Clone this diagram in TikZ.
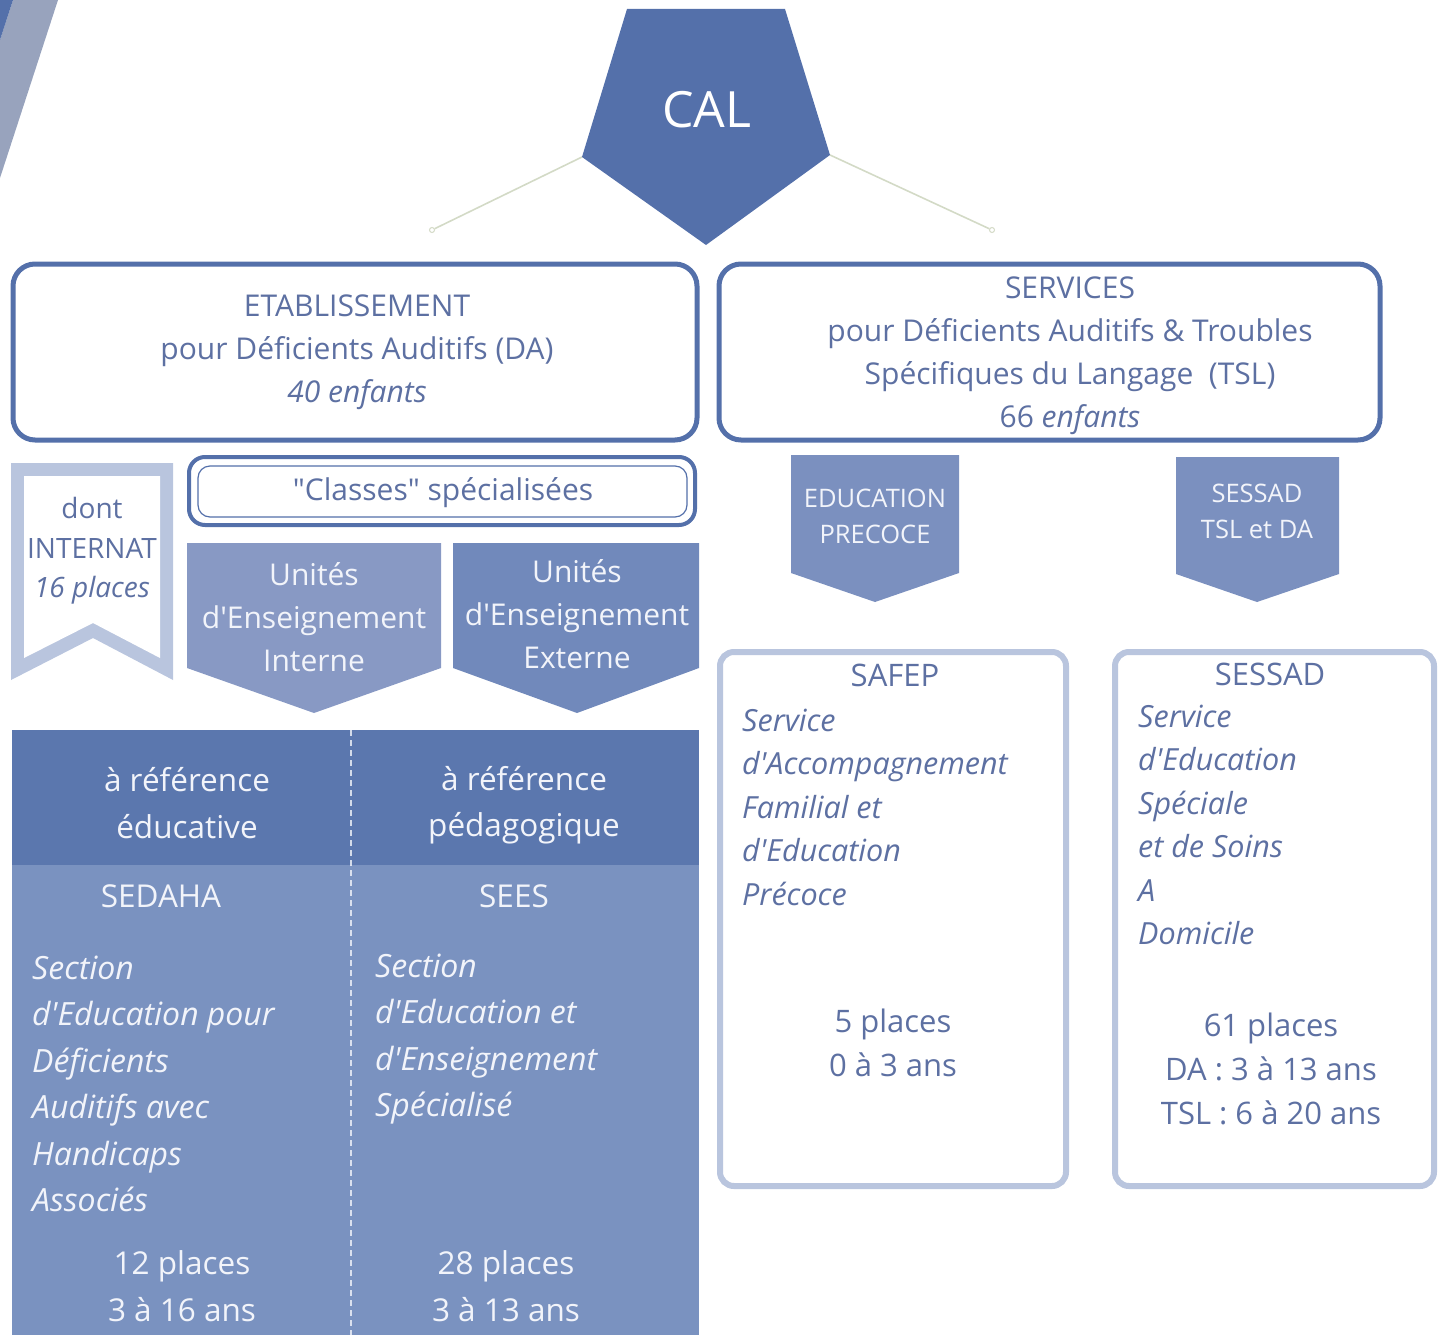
\documentclass[tikz,border=0pt]{standalone}
\usepackage{fontspec}
\setmainfont{Open Sans}
\newcommand{\ap}{\textquotesingle}
\newcommand{\qd}{\textquotedbl}
\definecolor{dkblue}{HTML}{5470AA}
\definecolor{txtc}{HTML}{5D70A2}
\definecolor{lightb}{HTML}{B9C5DE}
\definecolor{uiint}{HTML}{8899C4}
\definecolor{uiext}{HTML}{7189BB}
\definecolor{arrowc}{HTML}{7B90BF}
\definecolor{tabtop}{HTML}{5B77AE}
\definecolor{tabbot}{HTML}{7A92C0}
\definecolor{decogrey}{HTML}{98A3BD}
\definecolor{linkc}{HTML}{D3DAC6}
\definecolor{wtxtc}{HTML}{F2F4FA}
\tikzset{
  txt/.style={text=txtc, align=center, inner sep=0pt, font=\fontsize{30}{43}\selectfont},
  wtxt/.style={text=wtxtc, align=center, inner sep=0pt, font=\fontsize{30}{43}\selectfont},
  tabtxt/.style={text=wtxtc, align=center, inner sep=0pt, font=\fontsize{31.5}{46.5}\selectfont},
  tabital/.style={text=wtxtc, align=left, inner sep=0pt, anchor=west, font=\fontsize{32}{46.5}\selectfont\itshape},
  boxtxt/.style={text=txtc, align=center, inner sep=0pt, font=\fontsize{31}{44}\selectfont},
  boxital/.style={text=txtc, align=left, inner sep=0pt, anchor=west, font=\fontsize{30.5}{43.5}\selectfont\itshape},
  bigbox/.style={draw=dkblue, line width=5pt, rounded corners=22pt, fill=white},
  lightbox/.style={draw=lightb, line width=6pt, rounded corners=14pt, fill=white},
  link/.style={draw=linkc, line width=1.6pt},
  enddot/.style={circle, draw=linkc, fill=white, line width=1pt, inner sep=0pt, minimum size=5pt}
}
\begin{document}
\begin{tikzpicture}[x=1pt,y=-1pt]
\useasboundingbox (0,0) rectangle (1445,1335);

% corner decoration
\fill[decogrey] (13,0) -- (58,0) -- (0,178) -- (0,40) -- cycle;
\fill[dkblue] (0,0) -- (13,0) -- (0,40) -- cycle;

% CAL pentagon and links
\coordinate (calL) at (582,157);
\coordinate (calR) at (830,155);
\node[enddot] (endL) at (432,230) {};
\node[enddot] (endR) at (992,230) {};
\draw[link] (calL) -- (endL);
\draw[link] (calR) -- (endR);
\fill[dkblue] (627,9) -- (785,9) -- (calR) -- (706,245) -- (calL) -- cycle;
\node[text=white, inner sep=0pt, font=\fontsize{50}{60}\selectfont] (cal) at (707,110) {CAL};

% big boxes
\draw[bigbox] (13,264) rectangle (697,440);
\node[txt] (etab) at (357,352) {ETABLISSEMENT\\pour Déficients Auditifs (DA)\\\itshape 40 enfants};
\draw[bigbox] (719,264) rectangle (1380,440);
\node[txt] (serv) at (1070,356) {SERVICES\\pour Déficients Auditifs \& Troubles\\Spécifiques du Langage~~(TSL)\\66 \itshape enfants};

% internat banner
\fill[lightb] (11,463) -- (173,463) -- (173,680) -- (93,638) -- (11,680) -- cycle;
\fill[white] (24,476) -- (160,476) -- (160,658) -- (93,623) -- (24,658) -- cycle;
\node[txt, font=\fontsize{28}{39.5}\selectfont] (internat) at (92,551) {dont\\INTERNAT\\\itshape 16 places};

% classes specialisees
\draw[draw=dkblue, line width=4pt, rounded corners=16pt, fill=white] (189,457) rectangle (695,525);
\draw[draw=dkblue, line width=1.2pt, rounded corners=12pt] (198,466) rectangle (687,517);
\node[txt] (classes) at (443,493) {\qd Classes\qd{} spécialisées};

% unites arrows
\fill[uiint] (187,543) -- (441,543) -- (441,668) -- (314,713) -- (187,668) -- cycle;
\node[wtxt] (uint) at (314,617) {Unités\\d\ap Enseignement\\Interne};
\fill[uiext] (453,543) -- (699,543) -- (699,668) -- (577,713) -- (453,668) -- cycle;
\node[wtxt] (uext) at (577,614) {Unités\\d\ap Enseignement\\Externe};

% services arrows
\fill[arrowc] (791,455) -- (959,455) -- (959,573) -- (875,602) -- (791,573) -- cycle;
\node[wtxt, font=\fontsize{25.5}{36}\selectfont] (edprec) at (875,516) {EDUCATION\\PRECOCE};
\fill[arrowc] (1176,457) -- (1339,457) -- (1339,574) -- (1257,602) -- (1176,574) -- cycle;
\node[wtxt, font=\fontsize{25.5}{36}\selectfont] (sessadarr) at (1257,511) {SESSAD\\TSL et DA};

% table
\fill[tabbot] (12,730) rectangle (699,1335);
\fill[tabtop] (12,730) rectangle (699,865);
\draw[draw=wtxtc, opacity=0.8, line width=1.5pt, dash pattern=on 6pt off 4pt] (351,730) -- (351,1335);
\node[tabtxt] (refedu) at (187,803) {à référence\\éducative};
\node[tabtxt] (refped) at (524,805) {à référence\\pédagogique};
\node[tabtxt] (sedaha) at (161,896) {SEDAHA};
\node[tabtxt] (sees) at (514,896) {SEES};
\node[tabital] (sedahadesc) at (32,1084) {Section\\d\ap Education pour\\Déficients\\Auditifs avec\\Handicaps\\Associés};
\node[tabital] (seesdesc) at (375,1039) {Section\\d\ap Education et\\d\ap Enseignement\\Spécialisé};
\node[tabtxt] (sedahaplaces) at (182,1286) {12 places\\3 à 16 ans};
\node[tabtxt] (seesplaces) at (506,1286) {28 places\\3 à 13 ans};

% SAFEP box
\draw[lightbox] (720,652) rectangle (1066,1186);
\node[boxtxt] (safep) at (895,675) {SAFEP};
\node[boxital] (safepdesc) at (742,807) {Service\\d\ap Accompagnement\\Familial et\\d\ap Education\\Précoce};
\node[boxtxt] (safepplaces) at (893,1043) {5 places\\0 à 3 ans};

% SESSAD box
\draw[lightbox] (1115,652) rectangle (1434,1186);
\node[boxtxt] (sessad) at (1270,674) {SESSAD};
\node[boxital] (sessaddesc) at (1138,825) {Service\\d\ap Education\\Spéciale\\et de Soins\\A\\Domicile};
\node[boxtxt] (sessadplaces) at (1271,1069) {61 places\\DA : 3 à 13 ans\\TSL : 6 à 20 ans};
\end{tikzpicture}
\end{document}
